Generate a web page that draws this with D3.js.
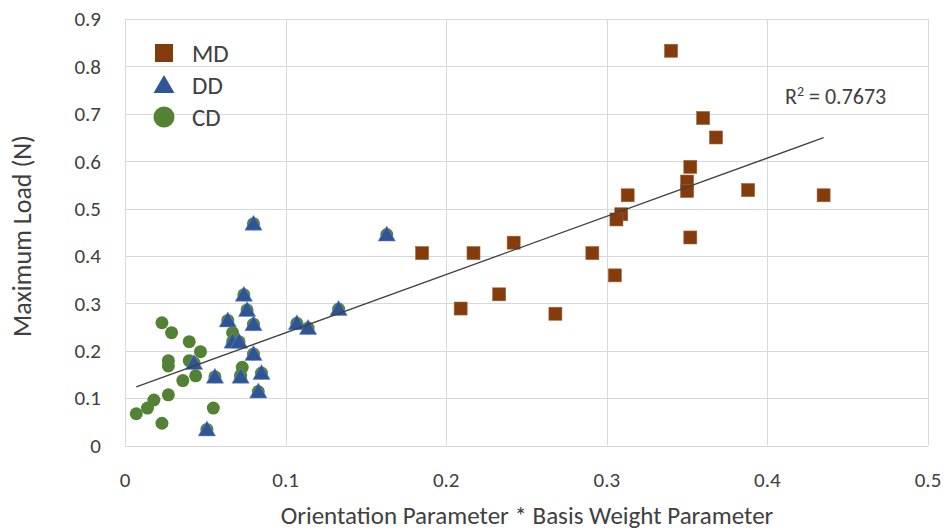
<!DOCTYPE html>
<meta charset="utf-8">
<style>
body { margin: 0; background: #fff; }
text { font-family: Carlito, Lato, "Open Sans", sans-serif; fill: #404040; }
.grid line { stroke: #d9d9d9; stroke-width: 1px; }
.trend { fill: none; stroke: #404040; stroke-width: 1.3px; }
</style>
<body>
<svg id="chart"></svg>
<script src="https://d3js.org/d3.v7.min.js"></script>
<script>

// values
var mdX = [0.340, 0.360, 0.368, 0.352, 0.350, 0.350, 0.313, 0.388, 0.435, 0.309,
           0.306, 0.352, 0.291, 0.305, 0.185, 0.217, 0.242, 0.209, 0.233, 0.268];
var mdY = [0.833, 0.691, 0.650, 0.588, 0.557, 0.537, 0.528, 0.539, 0.528, 0.488,
           0.477, 0.439, 0.406, 0.359, 0.406, 0.406, 0.428, 0.289, 0.319, 0.278];

var ddX = [0.163, 0.080, 0.074, 0.076, 0.064, 0.080, 0.107, 0.114, 0.133, 0.067,
           0.071, 0.080, 0.043, 0.056, 0.072, 0.085, 0.083, 0.051];
var ddY = [0.445, 0.468, 0.318, 0.286, 0.264, 0.256, 0.258, 0.248, 0.288, 0.219,
           0.219, 0.193, 0.174, 0.145, 0.145, 0.153, 0.114, 0.034];

var cdX = [0.023, 0.029, 0.040, 0.047, 0.027, 0.027, 0.040, 0.044, 0.036, 0.067,
           0.073, 0.072, 0.027, 0.018, 0.014, 0.007, 0.023, 0.055];
var cdY = [0.259, 0.238, 0.219, 0.198, 0.179, 0.168, 0.179, 0.147, 0.137, 0.238,
           0.165, 0.148, 0.107, 0.096, 0.079, 0.067, 0.047, 0.079];

var xTicks = [0, 0.1, 0.2, 0.3, 0.4, 0.5];
var yTicks = [0, 0.1, 0.2, 0.3, 0.4, 0.5, 0.6, 0.7, 0.8, 0.9];

// linear trendline shown in the chart
var trendSlope = 1.229, trendIntercept = 0.115, rSquared = "0.7673";

var seriesNames = ["MD", "DD", "CD"];
var colors = {MD: "#843c0c", DD: "#2f5597", CD: "#548235"};

var W = 948, H = 531;
var margin = {top: 19, right: 20, bottom: 85.5, left: 125};

var x = d3.scaleLinear().domain([0, 0.5]).range([margin.left, W - margin.right]);
var y = d3.scaleLinear().domain([0, 0.9]).range([H - margin.bottom, margin.top]);

var svg = d3.select("#chart").attr("width", W).attr("height", H);

function zip(xs, ys) { return xs.map(function(v, i) { return {x: v, y: ys[i]}; }); }
var md = zip(mdX, mdY), dd = zip(ddX, ddY), cd = zip(cdX, cdY);

// gridlines
var grid = svg.append("g").attr("class", "grid");
grid.selectAll(".gy").data(yTicks).enter().append("line")
    .attr("x1", x(0)).attr("x2", x(0.5))
    .attr("y1", function(d) { return Math.round(y(d)) + 0.5; })
    .attr("y2", function(d) { return Math.round(y(d)) + 0.5; });
grid.selectAll(".gx").data(xTicks).enter().append("line")
    .attr("y1", y(0)).attr("y2", y(0.9))
    .attr("x1", function(d) { return Math.round(x(d)) + 0.5; })
    .attr("x2", function(d) { return Math.round(x(d)) + 0.5; });

// tick labels
svg.append("g").selectAll("text").data(yTicks).enter().append("text")
    .attr("x", 101).attr("y", function(d) { return y(d); })
    .attr("dy", "0.35em").attr("text-anchor", "end")
    .style("font-size", "21px")
    .text(function(d) { return d3.format("")(d); });

svg.append("g").selectAll("text").data(xTicks).enter().append("text")
    .attr("x", function(d) { return x(d); }).attr("y", 480)
    .attr("dy", "0.35em").attr("text-anchor", "middle")
    .style("font-size", "21px")
    .text(function(d) { return d3.format("")(d); });

// axis titles
svg.append("text")
    .attr("x", 527).attr("y", 524)
    .attr("text-anchor", "middle")
    .style("font-size", "25px")
    .text("Orientation Parameter * Basis Weight Parameter");

svg.append("text")
    .attr("transform", "translate(22,236) rotate(-90)")
    .attr("dy", "0.35em").attr("text-anchor", "middle")
    .style("font-size", "26px")
    .text("Maximum Load (N)");

var sq = 13;
var tri = d3.symbol().type(d3.symbolTriangle).size(130);

// MD squares
svg.append("g").selectAll("rect").data(md).enter().append("rect")
    .attr("x", function(d) { return x(d.x) - sq / 2; })
    .attr("y", function(d) { return y(d.y) - sq / 2; })
    .attr("width", sq).attr("height", sq)
    .style("fill", colors.MD)
    .style("stroke", "#a0603a").style("stroke-width", 0.6);

// CD circles
svg.append("g").selectAll("circle").data(cd).enter().append("circle")
    .attr("cx", function(d) { return x(d.x); })
    .attr("cy", function(d) { return y(d.y); })
    .attr("r", 6.5)
    .style("fill", colors.CD);

// DD triangles (green marker shows behind each one)
var ddg = svg.append("g");
ddg.selectAll("circle").data(dd).enter().append("circle")
    .attr("cx", function(d) { return x(d.x); })
    .attr("cy", function(d) { return y(d.y); })
    .attr("r", 6.5)
    .style("fill", colors.CD);
ddg.selectAll("path").data(dd).enter().append("path")
    .attr("d", tri)
    .attr("transform", function(d) { return "translate(" + x(d.x) + "," + (y(d.y) + 1.5) + ")"; })
    .style("fill", colors.DD)
    .style("stroke", "#6f8fc8").style("stroke-width", 0.5);

// trendline over all points
var allX = mdX.concat(ddX, cdX);
var ext = d3.extent(allX);
var line = d3.line()
    .x(function(d) { return x(d); })
    .y(function(d) { return y(trendIntercept + trendSlope * d); });
svg.append("path").datum(ext).attr("class", "trend").attr("d", line);

svg.append("text")
    .attr("x", 785).attr("y", 96)
    .attr("dy", "0.35em")
    .style("font-size", "22px")
    .html("R<tspan dy='-8' style='font-size:14px'>2</tspan><tspan dy='8'> = " + rSquared + "</tspan>");

// legend
var legend = svg.selectAll(".legend").data(seriesNames).enter().append("g")
    .attr("class", "legend")
    .attr("transform", function(d, i) { return "translate(164," + (53 + i * 32) + ")"; });

legend.each(function(d) {
  var g = d3.select(this);
  if (d == "MD") {
    g.append("rect").attr("x", -9).attr("y", -9).attr("width", 18).attr("height", 18)
        .style("fill", colors.MD);
  } else if (d == "DD") {
    g.append("path").attr("d", d3.symbol().type(d3.symbolTriangle).size(190))
        .attr("transform", "translate(0,2)")
        .style("fill", colors.DD);
  } else {
    g.append("circle").attr("r", 10.5).style("fill", colors.CD);
  }
});

legend.append("text")
    .attr("x", 28).attr("dy", "0.35em")
    .style("font-size", "25px")
    .text(function(d) { return d; });

</script>
</body>
